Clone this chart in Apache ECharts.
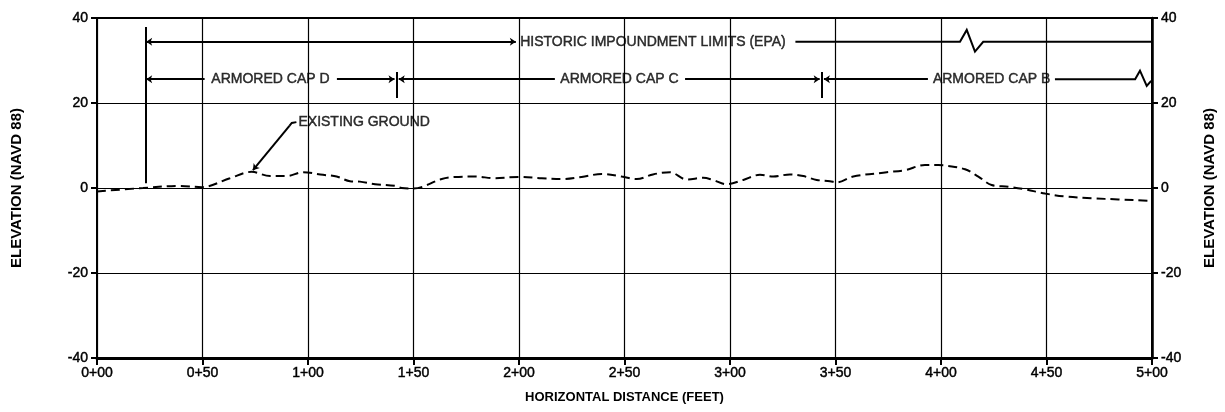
<!DOCTYPE html>
<html><head><meta charset="utf-8">
<script src="https://cdn.jsdelivr.net/npm/echarts@6/dist/echarts.min.js"></script>
<style>html,body{margin:0;padding:0;background:#fff}#c{width:1225px;height:412px}</style>
</head><body><div id="c"></div><script>
// ---- data ----
const xTickLabels = ['0+00','0+50','1+00','1+50','2+00','2+50','3+00','3+50','4+00','4+50','5+00'];
const yTickValues = [-40,-20,0,20,40];
// existing ground profile (distance ft, elevation ft)
const groundX = [0,21.8,39.3,49.6,63,73.3,82,89.9,97.6,107.1,113.6,119.9,124.6,131.8,141.2,144.4,149.9,163.4,169.7,179.1,188.6,199.7,210.8,220.2,229.7,239.2,248.7,255.8,263.5,271.6,279.5,287.3,291.9,298.4,306.3,314.2,320.5,328.4,334.7,341.1,347.4,350.6,358.4,374.3,382.9,392.4,398.7,403.5,411.4,417.7,424,431.9,439.8,449.3,458.8,471.4,484,498.2,500];
const groundY = [-0.8,0.0,0.5,0.2,2.3,3.8,2.8,2.8,3.7,3.1,2.7,1.6,1.5,0.9,0.5,0.0,-0.1,2.1,2.6,2.7,2.3,2.6,2.3,2.1,2.6,3.3,2.7,2.1,3.2,3.7,2.0,2.4,1.9,0.9,1.9,3.1,2.7,3.2,2.8,1.9,1.6,1.3,2.7,3.7,4.2,5.4,5.4,5.2,4.4,2.7,0.7,0.3,-0.3,-1.3,-2.0,-2.4,-2.7,-3.0,-3.1];
// annotation geometry (data coords)
const historicLeft  = [[23.3,34.4],[198.5,34.4]];
const historicRight = [[331,34.4],[409,34.4],[412.2,37.2],[416.1,32.1],[420,34.4],[500,34.4]];
const capDLeft  = [[23.3,25.6],[51,25.6]];
const capDRight = [[113.7,25.6],[141,25.6]];
const capCLeft  = [[143,25.6],[217,25.6]];
const capCRight = [[278.7,25.6],[342.5,25.6]];
const capBLeft  = [[344.5,25.6],[393.8,25.6]];
const capBRight = [[454,25.6],[492,25.6],[494.3,27.6],[497.5,24],[499.6,25.2]];
const limitLine = [[23,37.9],[23,1.1]];
const dividerC  = [[142,27.3],[142,21.2]];
const dividerB  = [[343.5,27.3],[343.5,21.2]];
const groundLeaderHook = [[94.5,15.5],[92.3,15.3],[91.2,14.6]];
const groundLeader = [[91.2,14.6],[73.9,4.2]];
const labelTexts = ['HISTORIC IMPOUNDMENT LIMITS (EPA)','ARMORED CAP D','ARMORED CAP C','ARMORED CAP B'];
const labelX = [263.5, 82.2, 247.6, 424];
const labelY = [34.4, 25.6, 25.6, 25.6];
const groundLabel = 'EXISTING GROUND';
const groundLabelPos = [95, 15.5];

// ---- chart ----
const FONT = 'Liberation Sans, Arial, sans-serif';
const INK = '#000';
const chart = echarts.init(document.getElementById('c'), null, {renderer:'canvas'});

function seg(coords, symbols){
  return {type:'lines', coordinateSystem:'cartesian2d', polyline: coords.length > 2, silent:true, z:5,
    symbol: symbols || ['none','none'], symbolSize: [6, 6],
    lineStyle:{color:INK, width:2, opacity:1, curveness:0},
    itemStyle:{color:INK},
    data:[{coords: coords}]};
}
const txt = {fontFamily:FONT, color:INK, textBorderColor:INK, textBorderWidth:0.45};

const option = {
  animation:false,
  backgroundColor:'#fff',
  grid:{left:97, right:73, top:18, bottom:54, show:true, borderColor:INK, borderWidth:2},
  xAxis:{type:'value', min:0, max:500, interval:50,
    name:'HORIZONTAL DISTANCE (FEET)', nameLocation:'middle', nameGap:33,
    nameTextStyle:Object.assign({fontSize:13, fontWeight:'bold'}, txt, {textBorderWidth:0}),
    axisLine:{show:true, onZero:false, lineStyle:{color:INK, width:3}},
    axisTick:{show:true, length:7, lineStyle:{color:INK, width:2}},
    axisLabel:Object.assign({fontSize:14, margin:8,
      formatter:(v)=>xTickLabels[Math.round(v/50)]}, txt),
    splitLine:{show:true, lineStyle:{color:INK, width:1.2}}},
  yAxis:[
    {type:'value', min:-40, max:40, interval:20, position:'left',
     name:'ELEVATION (NAVD 88)', nameLocation:'middle', nameGap:73, nameRotate:90,
     nameTextStyle:Object.assign({fontSize:15, fontWeight:'bold'}, txt, {textBorderWidth:0}),
     axisLine:{show:true, onZero:false, lineStyle:{color:INK, width:2}},
     axisTick:{show:true, length:6, lineStyle:{color:INK, width:2}},
     axisLabel:Object.assign({fontSize:14, margin:9,
       formatter:(v)=>yTickValues.includes(v)?String(v):''}, txt),
     splitLine:{show:true, lineStyle:{color:INK, width:1.2}}},
    {type:'value', min:-40, max:40, interval:20, position:'right',
     name:'ELEVATION (NAVD 88)', nameLocation:'middle', nameGap:50, nameRotate:90,
     nameTextStyle:Object.assign({fontSize:15, fontWeight:'bold'}, txt, {textBorderWidth:0}),
     axisLine:{show:true, onZero:false, lineStyle:{color:INK, width:2.5}},
     axisTick:{show:true, length:6, lineStyle:{color:INK, width:2}},
     axisLabel:Object.assign({fontSize:14, margin:9,
       formatter:(v)=>yTickValues.includes(v)?String(v):''}, txt),
     splitLine:{show:false}}
  ],
  series:[
    {type:'line', name:'Existing ground', data: groundX.map((x,i)=>[x, groundY[i]]),
     smooth:0.35, showSymbol:false, silent:true, z:4,
     lineStyle:{color:INK, width:2, type:[9,5]}},
    seg(historicLeft, ['arrow','arrow']),
    seg(historicRight),
    seg(capDLeft, ['arrow','none']),
    seg(capDRight, ['none','arrow']),
    seg(capCLeft, ['arrow','none']),
    seg(capCRight, ['none','arrow']),
    seg(capBLeft, ['arrow','none']),
    seg(capBRight),
    seg(limitLine),
    seg(dividerC),
    seg(dividerB),
    seg(groundLeaderHook),
    seg(groundLeader, ['none','arrow']),
    {type:'scatter', silent:true, symbolSize:0, z:6,
     data: labelTexts.map((t,i)=>({name:t, value:[labelX[i], labelY[i]]})),
     label:Object.assign({show:true, position:'inside', formatter:(p)=>p.name, fontSize:14}, txt)},
    {type:'scatter', silent:true, symbolSize:0, z:6,
     data:[{name:groundLabel, value:groundLabelPos}],
     label:Object.assign({show:true, position:'right', distance:1, formatter:(p)=>p.name, fontSize:14}, txt)}
  ]
};
chart.setOption(option);
</script></body></html>
